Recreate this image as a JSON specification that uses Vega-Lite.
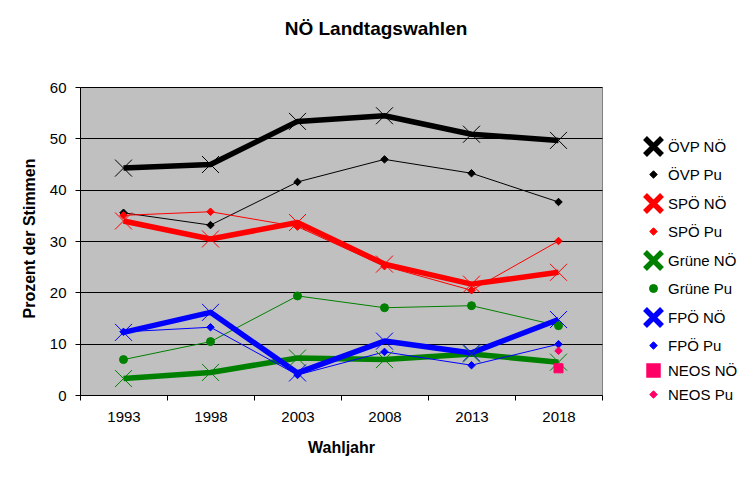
{
  "$schema": "https://vega.github.io/schema/vega-lite/v6.json",
  "autosize": "none",
  "width": 522,
  "height": 308,
  "padding": {"left": 80, "top": 87, "right": 151, "bottom": 88},
  "background": "white",
  "title": {
    "text": "NÖ Landtagswahlen",
    "font": "Liberation Sans",
    "fontSize": 19,
    "fontWeight": "bold",
    "color": "black",
    "anchor": "middle",
    "baseline": "alphabetic",
    "offset": 26,
    "dx": 35
  },
  "config": {
    "view": {"fill": "#C0C0C0", "stroke": "#808080", "strokeWidth": 1},
    "font": "Liberation Sans",
    "axis": {
      "labelFont": "Liberation Sans",
      "labelFontSize": 15,
      "labelColor": "black",
      "titleFont": "Liberation Sans",
      "titleFontSize": 16,
      "titleFontWeight": "bold",
      "titleColor": "black",
      "domainColor": "black",
      "tickColor": "black",
      "tickSize": 5
    }
  },
  "data": {
    "values": [
      {"series": "ÖVP NÖ", "year": "1993", "value": 44.2},
      {"series": "ÖVP NÖ", "year": "1998", "value": 44.9},
      {"series": "ÖVP NÖ", "year": "2003", "value": 53.3},
      {"series": "ÖVP NÖ", "year": "2008", "value": 54.4},
      {"series": "ÖVP NÖ", "year": "2013", "value": 50.8},
      {"series": "ÖVP NÖ", "year": "2018", "value": 49.6},
      {"series": "ÖVP Pu", "year": "1993", "value": 35.5},
      {"series": "ÖVP Pu", "year": "1998", "value": 33.1},
      {"series": "ÖVP Pu", "year": "2003", "value": 41.5},
      {"series": "ÖVP Pu", "year": "2008", "value": 45.9},
      {"series": "ÖVP Pu", "year": "2013", "value": 43.2},
      {"series": "ÖVP Pu", "year": "2018", "value": 37.6},
      {"series": "SPÖ NÖ", "year": "1993", "value": 33.9},
      {"series": "SPÖ NÖ", "year": "1998", "value": 30.4},
      {"series": "SPÖ NÖ", "year": "2003", "value": 33.6},
      {"series": "SPÖ NÖ", "year": "2008", "value": 25.5},
      {"series": "SPÖ NÖ", "year": "2013", "value": 21.6},
      {"series": "SPÖ NÖ", "year": "2018", "value": 23.9},
      {"series": "SPÖ Pu", "year": "1993", "value": 35.0},
      {"series": "SPÖ Pu", "year": "1998", "value": 35.7},
      {"series": "SPÖ Pu", "year": "2003", "value": 32.8},
      {"series": "SPÖ Pu", "year": "2008", "value": 25.1},
      {"series": "SPÖ Pu", "year": "2013", "value": 20.4},
      {"series": "SPÖ Pu", "year": "2018", "value": 30.0},
      {"series": "Grüne NÖ", "year": "1993", "value": 3.2},
      {"series": "Grüne NÖ", "year": "1998", "value": 4.4},
      {"series": "Grüne NÖ", "year": "2003", "value": 7.2},
      {"series": "Grüne NÖ", "year": "2008", "value": 6.9},
      {"series": "Grüne NÖ", "year": "2013", "value": 8.0},
      {"series": "Grüne NÖ", "year": "2018", "value": 6.4},
      {"series": "Grüne Pu", "year": "1993", "value": 6.9},
      {"series": "Grüne Pu", "year": "1998", "value": 10.4},
      {"series": "Grüne Pu", "year": "2003", "value": 19.3},
      {"series": "Grüne Pu", "year": "2008", "value": 17.0},
      {"series": "Grüne Pu", "year": "2013", "value": 17.4},
      {"series": "Grüne Pu", "year": "2018", "value": 13.5},
      {"series": "FPÖ NÖ", "year": "1993", "value": 12.2},
      {"series": "FPÖ NÖ", "year": "1998", "value": 16.1},
      {"series": "FPÖ NÖ", "year": "2003", "value": 4.3},
      {"series": "FPÖ NÖ", "year": "2008", "value": 10.5},
      {"series": "FPÖ NÖ", "year": "2013", "value": 8.2},
      {"series": "FPÖ NÖ", "year": "2018", "value": 14.7},
      {"series": "FPÖ Pu", "year": "1993", "value": 12.3},
      {"series": "FPÖ Pu", "year": "1998", "value": 13.2},
      {"series": "FPÖ Pu", "year": "2003", "value": 3.9},
      {"series": "FPÖ Pu", "year": "2008", "value": 8.4},
      {"series": "FPÖ Pu", "year": "2013", "value": 5.8},
      {"series": "FPÖ Pu", "year": "2018", "value": 9.9},
      {"series": "NEOS NÖ", "year": "2018", "value": 5.2},
      {"series": "NEOS Pu", "year": "2018", "value": 8.6}
    ]
  },
  "encoding": {
    "x": {
      "field": "year",
      "type": "ordinal",
      "scale": {"type": "band", "paddingInner": 0, "paddingOuter": 0},
      "axis": {
        "title": "Wahljahr",
        "labelAngle": 0,
        "tickBand": "extent",
        "labelPadding": 9,
        "titleX": 261,
        "titleY": 52,
        "titleBaseline": "middle",
        "grid": false
      }
    },
    "y": {
      "field": "value",
      "type": "quantitative",
      "scale": {"domain": [0, 60], "nice": false, "zero": true},
      "axis": {
        "title": "Prozent der Stimmen",
        "values": [0, 10, 20, 30, 40, 50, 60],
        "grid": true,
        "gridColor": "black",
        "gridOpacity": 1,
        "gridWidth": 1,
        "labelPadding": 9,
        "titleX": -51,
        "titleY": 151,
        "titleAngle": -90,
        "titleBaseline": "middle",
        "titleAlign": "center"
      }
    },
    "color": {
      "field": "series",
      "type": "nominal",
      "scale": {
        "domain": ["ÖVP NÖ", "ÖVP Pu", "SPÖ NÖ", "SPÖ Pu", "Grüne NÖ", "Grüne Pu", "FPÖ NÖ", "FPÖ Pu", "NEOS NÖ", "NEOS Pu"],
        "range": ["#000000", "#000000", "#FF0000", "#FF0000", "#008000", "#008000", "#0000FF", "#0000FF", "#FF0066", "#FF0066"]
      },
      "legend": {
        "orient": "none",
        "legendX": 562,
        "legendY": 48,
        "title": null,
        "padding": 0,
        "symbolSize": 100,
        "labelFont": "Liberation Sans",
        "labelFontSize": 15,
        "labelColor": "black",
        "labelOffset": 3,
        "rowPadding": 1,
        "encode": {
          "symbols": {
            "update": {
              "shape": {"signal": "indexof(datum.value,'NÖ')>=0 ? (datum.value=='NEOS NÖ' ? 'M-3,0H3M-0.5,-0.5H0.5V0.5H-0.5Z' : 'M-3.5,0H3.5') : (datum.value=='Grüne Pu' ? 'M-3.5,0H3.5M0.8,0A0.8,0.8,0,1,1,-0.8,0A0.8,0.8,0,1,1,0.8,0Z' : 'M-3.5,0H3.5M0,-0.8L0.8,0L0,0.8L-0.8,0Z')"},
              "strokeWidth": {"signal": "indexof(datum.value,'NÖ')>=0 ? 5 : 1"},
              "fill": {"scale": "color", "field": "value"},
              "stroke": {"scale": "color", "field": "value"},
              "opacity": {"value": 1}
            }
          }
        }
      }
    }
  },
  "layer": [
    {
      "mark": {"type": "line", "strokeJoin": "round"},
      "encoding": {
        "strokeWidth": {
          "field": "series",
          "type": "nominal",
          "scale": {
            "type": "ordinal",
            "domain": ["ÖVP NÖ", "ÖVP Pu", "SPÖ NÖ", "SPÖ Pu", "Grüne NÖ", "Grüne Pu", "FPÖ NÖ", "FPÖ Pu", "NEOS NÖ", "NEOS Pu"],
            "range": [5.5, 1, 5.5, 1, 5.5, 1, 5.5, 1, 5.5, 1]
          },
          "legend": null
        }
      }
    },
    {
      "mark": {"type": "point", "filled": true, "opacity": 1, "strokeWidth": 1},
      "encoding": {
        "shape": {
          "field": "series",
          "type": "nominal",
          "scale": {
            "domain": ["ÖVP NÖ", "ÖVP Pu", "SPÖ NÖ", "SPÖ Pu", "Grüne NÖ", "Grüne Pu", "FPÖ NÖ", "FPÖ Pu", "NEOS NÖ", "NEOS Pu"],
            "range": ["M-1,-1L1,1M-1,1L1,-1", "diamond", "M-1,-1L1,1M-1,1L1,-1", "diamond", "M-1,-1L1,1M-1,1L1,-1", "circle", "M-1,-1L1,1M-1,1L1,-1", "diamond", "square", "diamond"]
          },
          "legend": null
        },
        "size": {
          "field": "series",
          "type": "nominal",
          "scale": {
            "type": "ordinal",
            "domain": ["ÖVP NÖ", "ÖVP Pu", "SPÖ NÖ", "SPÖ Pu", "Grüne NÖ", "Grüne Pu", "FPÖ NÖ", "FPÖ Pu", "NEOS NÖ", "NEOS Pu"],
            "range": [289, 56, 289, 56, 289, 64, 289, 56, 81, 56]
          },
          "legend": null
        },
        "stroke": {
          "field": "series",
          "type": "nominal",
          "scale": {
            "domain": ["ÖVP NÖ", "ÖVP Pu", "SPÖ NÖ", "SPÖ Pu", "Grüne NÖ", "Grüne Pu", "FPÖ NÖ", "FPÖ Pu", "NEOS NÖ", "NEOS Pu"],
            "range": ["#000000", "#000000", "#FF0000", "#FF0000", "#008000", "#008000", "#0000FF", "#0000FF", "#FF0066", "#FF0066"]
          },
          "legend": null
        }
      }
    }
  ]
}
